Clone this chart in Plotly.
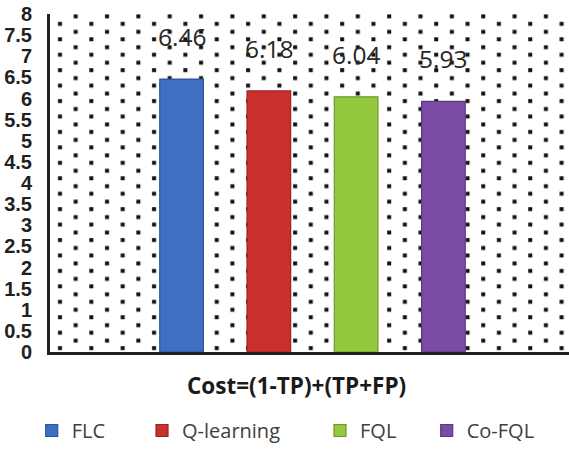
import base64
import plotly.graph_objects as go

# ---- data ----
categories = ["Cost=(1-TP)+(TP+FP)"]
series_names = ["FLC", "Q-learning", "FQL", "Co-FQL"]
series_values = [6.46, 6.18, 6.04, 5.93]
y_tick_values = [0, 0.5, 1, 1.5, 2, 2.5, 3, 3.5, 4, 4.5, 5, 5.5, 6, 6.5, 7, 7.5, 8]
y_tick_labels = ["0", "0.5", "1", "1.5", "2", "2.5", "3", "3.5", "4",
                 "4.5", "5", "5.5", "6", "6.5", "7", "7.5", "8"]

# ---- style ----
bar_colors = ["#3D6FC2", "#C8302E", "#94C83D", "#7B4CA6"]
edge_colors = ["#2B5499", "#9A2421", "#6E9A2A", "#5C3880"]
W, H = 569, 450
M_L, M_R, M_T, M_B = 50, 0, 14, 93
PW, PH = W - M_L - M_R, H - M_T - M_B
BARGAP, BARGROUPGAP = 0.335, 0.5
X_RANGE = [-0.5, 0.4886]
AXIS_COLOR = "#231F20"

# dotted backdrop for the plotting area (staggered square dots)
DX, DY, DOT = 15.675, 15.67, 4.0
pattern_svg = (
    f'<svg xmlns="http://www.w3.org/2000/svg" width="{PW}" height="{PH}" '
    f'viewBox="0 0 {PW} {PH}">'
    f'<defs><pattern id="dots" patternUnits="userSpaceOnUse" '
    f'width="{2 * DX}" height="{DY}">'
    f'<rect x="{10 - DOT / 2}" y="{10 - DOT / 2}" width="{DOT}" height="{DOT}" fill="#111"/>'
    f'<rect x="{10 + DX - DOT / 2}" y="{2.2 - DOT / 2 + 0.2}" width="{DOT}" height="{DOT}" fill="#111"/>'
    f'</pattern></defs>'
    f'<rect width="{PW}" height="{PH}" fill="url(#dots)"/></svg>'
)
pattern_uri = "data:image/svg+xml;base64," + base64.b64encode(pattern_svg.encode()).decode()

fig = go.Figure()

legend_ids = ["legend", "legend2", "legend3", "legend4"]
for name, val, col, edge, lg in zip(series_names, series_values, bar_colors,
                                     edge_colors, legend_ids):
    fig.add_trace(go.Bar(
        x=categories, y=[val], name=name, legend=lg,
        marker=dict(color=col, line=dict(color=edge, width=1.2)),
        hoverinfo="skip",
    ))

# value labels above each bar of the cluster
n = len(series_values)
slot = (1 - BARGAP) / n
annotations = []
for i, val in enumerate(series_values):
    annotations.append(dict(
        x=(i - (n - 1) / 2) * slot, y=val, xref="x", yref="y",
        text=f"{val:.2f}", showarrow=False, yanchor="bottom", yshift=24,
        font=dict(family="Open Sans", size=24.5, color="#262626"),
    ))

# category caption under the axis
annotations.append(dict(
    x=(296 - M_L) / PW, y=(M_T + PH - 391) / PH, xref="paper", yref="paper",
    text=f"<b>{categories[0]}</b>", showarrow=False,
    xanchor="center", yanchor="middle",
    font=dict(family="Open Sans", size=22.5, color="#1A1A1A"),
))

# one legend per series so each entry can sit at its own spot
legend_text_x = [71.7, 182, 360, 466.7]
legend_layout = {}
for lg, tx in zip(legend_ids, legend_text_x):
    legend_layout[lg] = dict(
        orientation="h", x=(tx - 40 - M_L) / PW, xanchor="left",
        y=(M_T + PH - 437) / PH, yanchor="middle",
        bgcolor="rgba(0,0,0,0)", borderwidth=0,
        font=dict(family="Open Sans", size=20, color="#404040"),
    )

fig.update_layout(
    width=W, height=H,
    margin=dict(l=M_L, r=M_R, t=M_T, b=M_B, pad=0),
    paper_bgcolor="white", plot_bgcolor="rgba(0,0,0,0)",
    barmode="group", bargap=BARGAP, bargroupgap=BARGROUPGAP,
    showlegend=True,
    annotations=annotations,
    images=[dict(
        source=pattern_uri, xref="paper", yref="paper", x=0, y=1,
        sizex=1, sizey=1, xanchor="left", yanchor="top",
        sizing="stretch", layer="below",
    )],
    xaxis=dict(
        type="category", range=X_RANGE, showticklabels=False, ticks="",
        showline=True, linewidth=3, linecolor=AXIS_COLOR,
        showgrid=False, zeroline=False,
    ),
    yaxis=dict(
        range=[0, 8], tickvals=y_tick_values, ticktext=y_tick_labels,
        ticks="", ticklabelstandoff=11,
        tickfont=dict(family="Liberation Sans", size=20, color=AXIS_COLOR,
                      weight="bold"),
        showline=True, linewidth=3, linecolor=AXIS_COLOR,
        showgrid=False, zeroline=False,
    ),
    **legend_layout,
)

fig.write_html("out.html")
